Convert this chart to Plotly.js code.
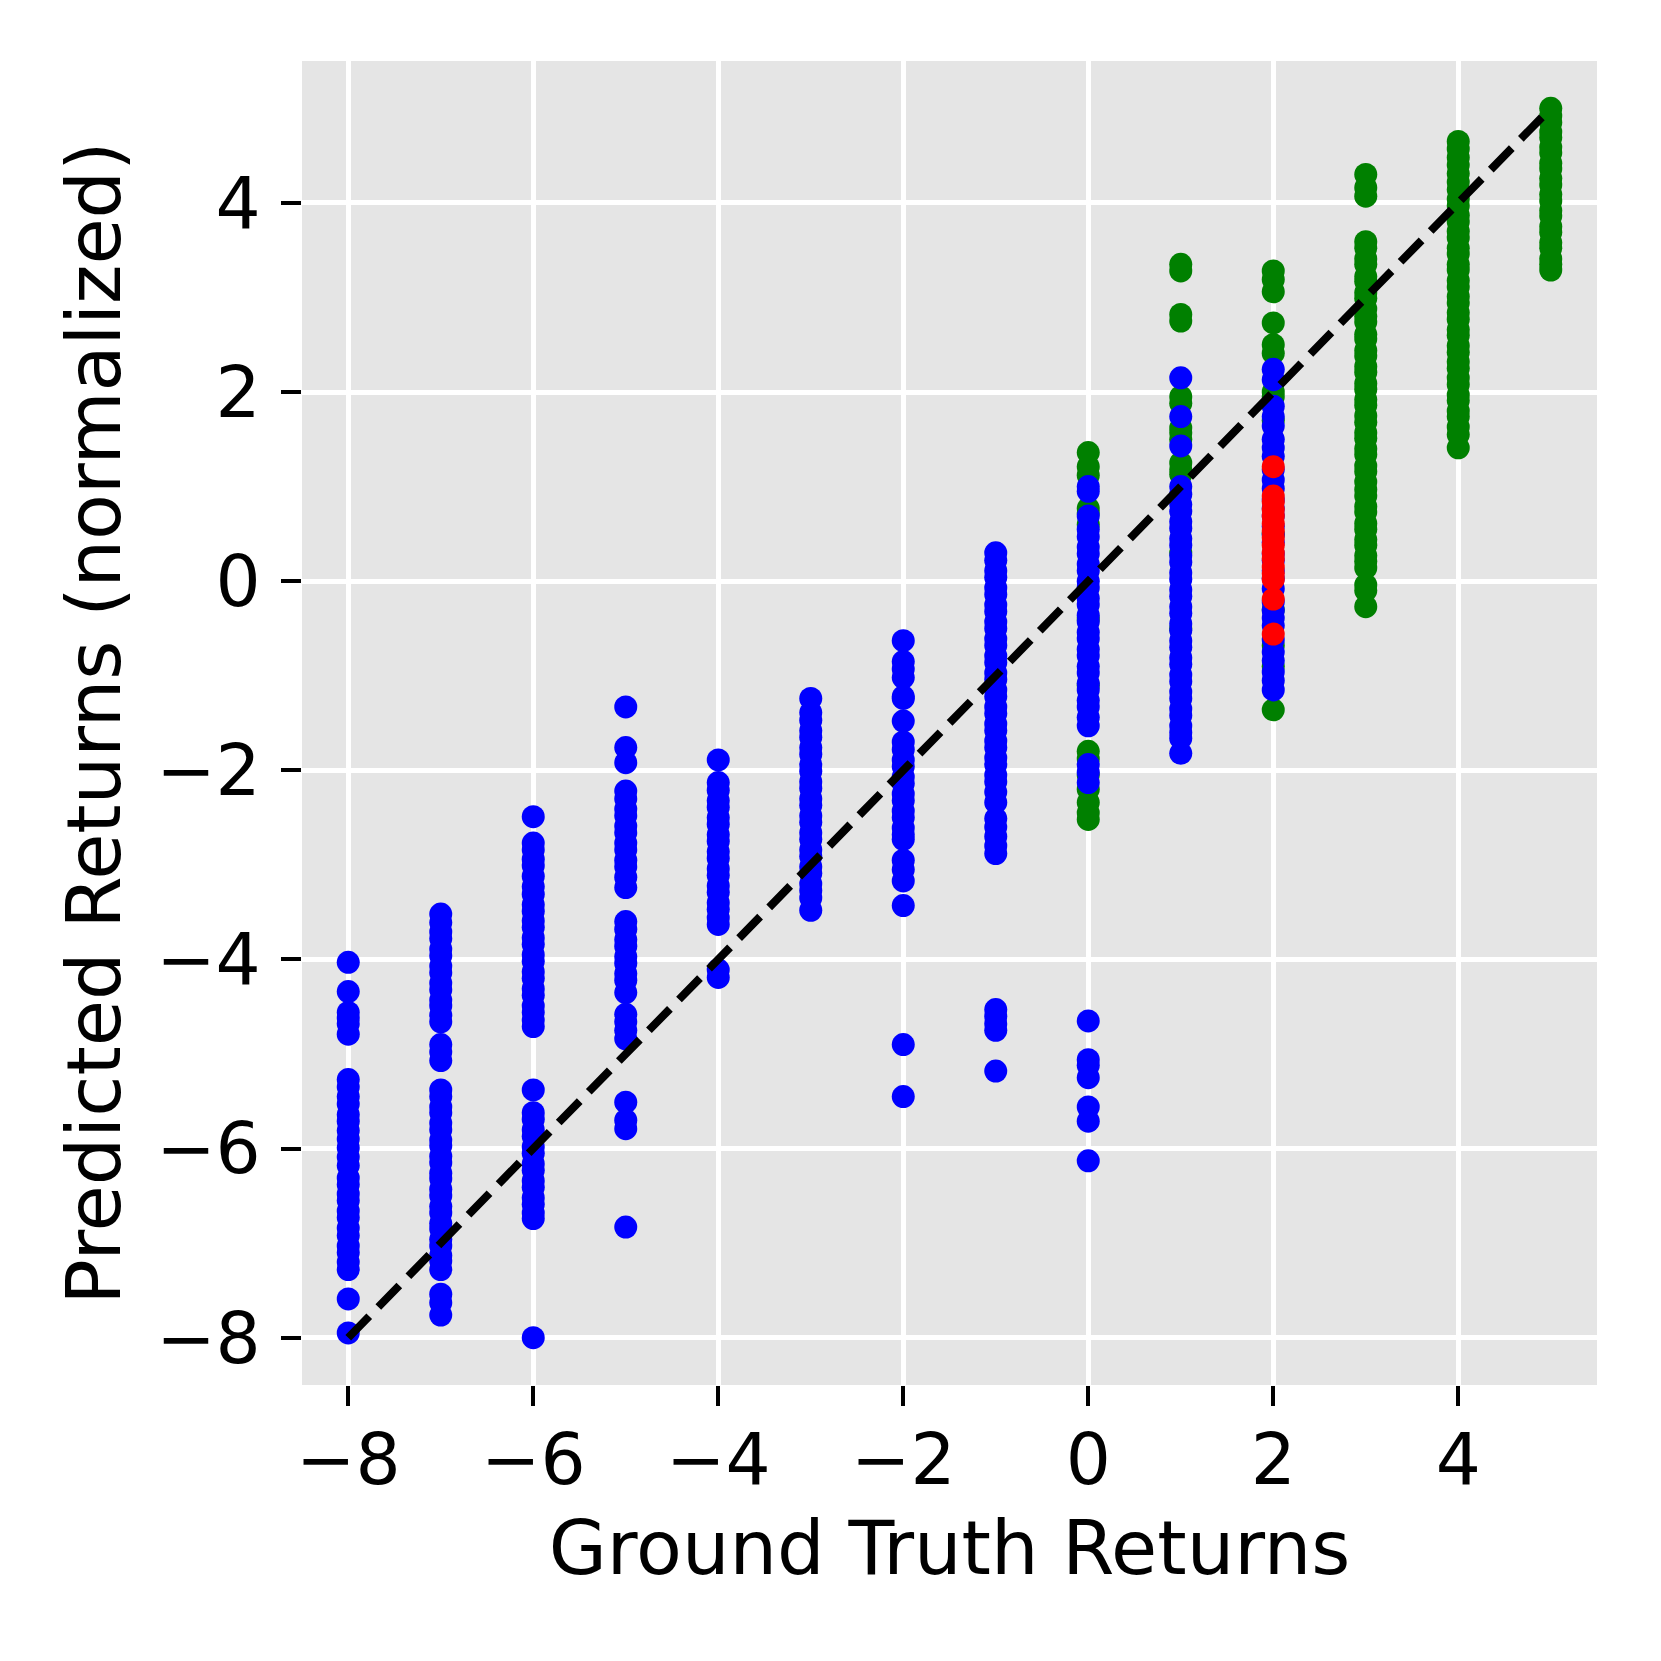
<!DOCTYPE html>
<html>
<head>
<meta charset="utf-8">
<script src="https://cdn.plot.ly/plotly-3.0.1.min.js"></script>
<style>html,body{margin:0;padding:0;background:#fff;}#chart{width:1661px;height:1661px;}</style>
</head>
<body>
<div id="chart"></div>
<script>
// Ground-truth return columns
const columns = [-8, -7, -6, -5, -4, -3, -2, -1, 0, 1, 2, 3, 4, 5];

// Blue predictions, one array per ground-truth column
const blue_m8 = [-4.03, -4.34, -4.56, -4.62, -4.68, -4.79, -5.27, -5.35, -5.45, -5.53, -5.64, -5.71, -5.81, -5.90, -5.99, -6.09, -6.18, -6.31, -6.38, -6.48, -6.55, -6.66, -6.73, -6.84, -6.92, -7.03, -7.10, -7.20, -7.28, -7.59, -7.95];
const blue_m7 = [-3.52, -3.61, -3.71, -3.78, -3.89, -3.96, -4.07, -4.14, -4.25, -4.32, -4.43, -4.49, -4.59, -4.66, -4.90, -4.98, -5.07, -5.38, -5.45, -5.56, -5.62, -5.73, -5.80, -5.91, -5.97, -6.08, -6.15, -6.26, -6.32, -6.43, -6.50, -6.61, -6.68, -6.79, -6.85, -6.96, -7.03, -7.13, -7.19, -7.28, -7.54, -7.63, -7.76];
const blue_m6 = [-2.49, -2.77, -2.84, -2.94, -3.01, -3.12, -3.23, -3.31, -3.42, -3.49, -3.59, -3.66, -3.77, -3.84, -3.95, -4.02, -4.13, -4.20, -4.31, -4.38, -4.49, -4.56, -4.64, -4.71, -5.38, -5.62, -5.69, -5.80, -5.87, -5.98, -6.05, -6.16, -6.23, -6.34, -6.41, -6.52, -6.59, -6.68, -6.74, -8.00];
const blue_m5 = [-1.33, -1.76, -1.92, -2.22, -2.30, -2.41, -2.48, -2.59, -2.66, -2.77, -2.84, -2.95, -3.02, -3.13, -3.24, -3.60, -3.68, -3.79, -3.86, -3.97, -4.04, -4.15, -4.22, -4.35, -4.58, -4.66, -4.75, -4.84, -5.51, -5.70, -5.79, -6.83];
const blue_m4 = [-1.89, -2.13, -2.21, -2.32, -2.39, -2.50, -2.57, -2.68, -2.75, -2.86, -2.93, -3.04, -3.11, -3.22, -3.29, -3.40, -3.47, -3.56, -3.63, -4.11, -4.19];
const blue_m3 = [-1.24, -1.39, -1.47, -1.58, -1.65, -1.76, -1.83, -1.94, -2.01, -2.12, -2.19, -2.30, -2.37, -2.48, -2.55, -2.66, -2.73, -2.84, -2.91, -3.02, -3.09, -3.20, -3.27, -3.35, -3.48];
const blue_m2 = [-0.63, -0.85, -0.93, -1.02, -1.22, -1.24, -1.48, -1.70, -1.78, -1.89, -1.96, -2.07, -2.14, -2.25, -2.32, -2.43, -2.50, -2.61, -2.68, -2.73, -2.95, -3.05, -3.17, -3.43, -4.90, -5.45];
const blue_m1 = [0.30, 0.22, 0.11, 0.04, -0.07, -0.14, -0.25, -0.32, -0.43, -0.50, -0.61, -0.68, -0.79, -0.86, -0.97, -1.04, -1.15, -1.22, -1.33, -1.40, -1.51, -1.58, -1.69, -1.76, -1.87, -1.94, -2.05, -2.12, -2.23, -2.34, -2.51, -2.60, -2.70, -2.80, -2.88, -4.53, -4.60, -4.68, -4.75, -5.18];
const blue_0 = [1.00, 0.95, 0.69, 0.55, 0.47, 0.36, 0.29, 0.18, 0.11, 0.00, -0.07, -0.18, -0.25, -0.36, -0.43, -0.54, -0.61, -0.72, -0.79, -0.90, -0.97, -1.08, -1.15, -1.26, -1.33, -1.44, -1.53, -1.94, -2.02, -2.13, -4.65, -5.06, -5.12, -5.25, -5.56, -5.71, -6.13];
const blue_1 = [2.15, 1.74, 1.43, 1.00, 0.92, 0.81, 0.74, 0.63, 0.56, 0.45, 0.38, 0.27, 0.20, 0.09, 0.02, -0.09, -0.16, -0.27, -0.34, -0.45, -0.52, -0.63, -0.70, -0.81, -0.88, -0.99, -1.06, -1.17, -1.24, -1.35, -1.42, -1.53, -1.60, -1.66, -1.82];
const blue_2 = [2.24, 2.13, 1.85, 1.74, 1.64, 1.50, 1.41, 1.32, 1.18, 1.07, 0.98, 0.86, 0.77, 0.69, 0.58, 0.49, 0.41, 0.29, 0.22, 0.11, 0.03, -0.08, -0.22, -0.31, -0.39, -0.47, -0.62, -0.75, -0.84, -0.96, -1.05, -1.15];

// Green predictions
const green_0 = [1.36, 1.21, 1.12, 0.77, 0.72, 0.60, -0.40, -1.10, -1.80, -1.88, -2.05, -2.20, -2.34, -2.45, -2.52];
const green_1 = [3.35, 3.28, 2.82, 2.75, 1.95, 1.88, 1.62, 1.57, 1.50, 1.25, 1.18, 1.13, 0.30, -0.50];
const green_2 = [3.28, 3.19, 3.06, 2.73, 2.50, 2.41, 2.00, 1.95, 1.70, 0.50, -0.30, -0.68, -0.90, -1.36];
const green_3 = [4.30, 4.16, 4.07, 3.59, 3.52, 3.41, 3.35, 3.22, 3.17, 3.05, 2.99, 2.88, 2.80, 2.74, 2.61, 2.56, 2.44, 2.38, 2.27, 2.21, 2.09, 2.03, 1.92, 1.86, 1.75, 1.68, 1.57, 1.51, 1.40, 1.34, 1.22, 1.16, 1.05, 0.97, 0.90, 0.79, 0.73, 0.61, 0.55, 0.44, 0.38, 0.27, 0.21, 0.14, -0.04, -0.10, -0.27];
const green_4 = [4.65, 4.57, 4.48, 4.40, 4.31, 4.22, 4.14, 4.04, 3.97, 3.87, 3.80, 3.70, 3.63, 3.52, 3.46, 3.35, 3.29, 3.18, 3.11, 3.01, 2.94, 2.84, 2.77, 2.66, 2.60, 2.49, 2.42, 2.32, 2.25, 2.15, 2.08, 1.97, 1.91, 1.80, 1.74, 1.63, 1.55, 1.41];
const green_5 = [5.00, 4.92, 4.85, 4.75, 4.69, 4.59, 4.53, 4.42, 4.36, 4.26, 4.19, 4.09, 4.02, 3.92, 3.86, 3.75, 3.69, 3.58, 3.52, 3.41, 3.35, 3.29];

// Red predictions
const red_2 = [1.21, 0.90, 0.84, 0.76, 0.69, 0.61, 0.53, 0.46, 0.38, 0.30, 0.24, 0.15, 0.08, 0.02, -0.19, -0.56];

// Identity reference line end points
const diagLine = [-8, 5];

// Tick values
const xTicks = [-8, -6, -4, -2, 0, 2, 4];
const yTicks = [-8, -6, -4, -2, 0, 2, 4];

function flatten(groups) {
  const xs = [], ys = [];
  groups.forEach(([col, vals]) => vals.forEach(v => { xs.push(col); ys.push(v); }));
  return {x: xs, y: ys};
}

const blue = flatten([[columns[0], blue_m8], [columns[1], blue_m7], [columns[2], blue_m6], [columns[3], blue_m5],
  [columns[4], blue_m4], [columns[5], blue_m3], [columns[6], blue_m2], [columns[7], blue_m1],
  [columns[8], blue_0], [columns[9], blue_1], [columns[10], blue_2]]);
const green = flatten([[columns[8], green_0], [columns[9], green_1], [columns[10], green_2],
  [columns[11], green_3], [columns[12], green_4], [columns[13], green_5]]);
const red = flatten([[columns[10], red_2]]);

const mk = (c) => ({size: 23, color: c, line: {width: 0}});
const traces = [
  {type: 'scatter', mode: 'markers', x: green.x, y: green.y, marker: mk('#008000'), hoverinfo: 'skip'},
  {type: 'scatter', mode: 'markers', x: blue.x, y: blue.y, marker: mk('#0000ff'), hoverinfo: 'skip'},
  {type: 'scatter', mode: 'markers', x: red.x, y: red.y, marker: mk('#ff0000'), hoverinfo: 'skip'},
  {type: 'scatter', mode: 'lines', x: diagLine, y: diagLine, line: {color: '#000000', width: 8, dash: '30px,13px'}, hoverinfo: 'skip'}
];

const fmt = v => String(v).replace('-', '\u2212');
const font = {family: 'DejaVu Sans', size: 71, color: '#000000'};
const titleFont = {family: 'DejaVu Sans', size: 75, color: '#000000'};
const axisCommon = {
  showgrid: true, gridcolor: '#ffffff', gridwidth: 5, zeroline: false, showline: false,
  ticks: 'outside', ticklen: 20, tickwidth: 4, tickcolor: '#000000', tickfont: font,
  automargin: false
};

const layout = {
  width: 1661, height: 1661,
  margin: {l: 302, r: 64, t: 61, b: 276, pad: 0},
  paper_bgcolor: '#ffffff', plot_bgcolor: '#e5e5e5',
  showlegend: false,
  xaxis: Object.assign({}, axisCommon, {
    range: [-8.5, 5.5], tickvals: xTicks, ticktext: xTicks.map(fmt), ticklabelstandoff: -7,
    title: {text: 'Ground Truth Returns', font: titleFont, standoff: 21}
  }),
  yaxis: Object.assign({}, axisCommon, {
    range: [-8.5, 5.5], tickvals: yTicks, ticktext: yTicks.map(fmt), ticklabelstandoff: 6,
    title: {text: 'Predicted Returns (normalized)', font: titleFont, standoff: 10}
  })
};

Plotly.newPlot('chart', traces, layout, {staticPlot: true, displayModeBar: false});
</script>
</body>
</html>
